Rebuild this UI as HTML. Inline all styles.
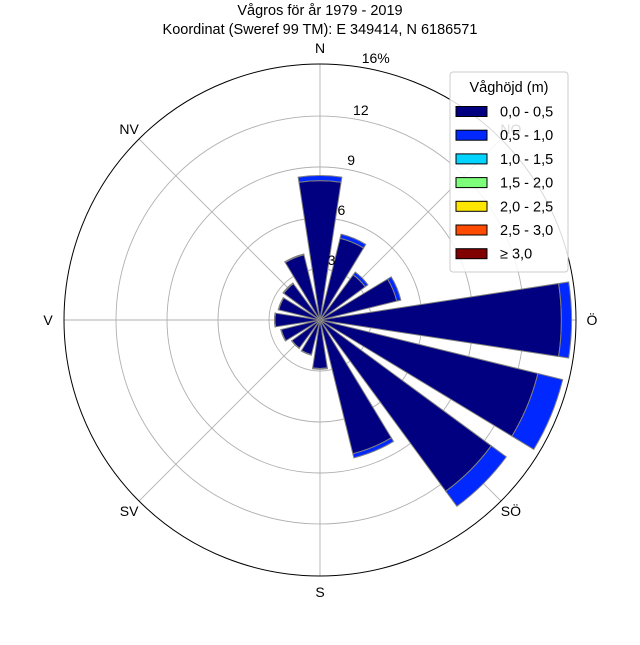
<!DOCTYPE html>
<html><head><meta charset="utf-8"><style>
body{margin:0;background:#fff;}
svg text{font-family:"Liberation Sans",sans-serif;fill:#000;}
</style></head><body>
<svg id="chart" width="640" height="640" viewBox="0 0 640 640" xmlns="http://www.w3.org/2000/svg">
<text x="320" y="15" font-size="14.5" text-anchor="middle">Vågros för år 1979 - 2019</text>
<text x="320" y="34" font-size="14.5" text-anchor="middle">Koordinat (Sweref 99 TM): E 349414, N 6186571</text>
<g id="grid"></g>
<g id="bars"></g>
<g id="labels"></g>
<g id="legend"></g>
</svg>
<script>
const directions = ["N","NNO","NO","ONO","Ö","OSÖ","SÖ","SSÖ","S","SSV","SV","VSV","V","VNV","NV","NNV"];
const bin0 = [8.2,4.95,3.3,4.65,14.2,13.2,12.5,8.1,2.85,2.1,2.05,2.35,2.65,2.5,2.65,3.95];
const bin1 = [0.3,0.25,0.2,0.25,0.6,1.5,1.1,0.25,0.05,0.03,0.03,0.03,0.03,0.03,0.05,0.05];
const ringValues = [3,6,9,12];
const ringLabels = ["3","6","9","12"];
const outerLabel = "16%";
const compassNames = ["N","NO","Ö","SÖ","S","SV","V","NV"];
const legendLabels = ["0,0 - 0,5","0,5 - 1,0","1,0 - 1,5","1,5 - 2,0","2,0 - 2,5","2,5 - 3,0","≥ 3,0"];
const legendColors = ["#000080","#0028ff","#00d4ff","#7dff7a","#ffe600","#ff4a00","#800000"];

const NS="http://www.w3.org/2000/svg";
const cx=320, cy=320, rMax=256, vMax=15.06;
function rScale(v){return v/vMax*rMax;}
function pt(deg,r){const a=deg*Math.PI/180;return [cx+r*Math.sin(a), cy-r*Math.cos(a)];}
function mk(tag,attrs,parent){const e=document.createElementNS(NS,tag);for(const k in attrs)e.setAttribute(k,attrs[k]);parent.appendChild(e);return e;}

const grid=document.getElementById('grid');
ringValues.forEach((v,i)=>{
  const c=mk('circle',{cx:cx,cy:cy,r:rScale(v),fill:'none',stroke:'#b0b0b0','stroke-width':0.9},grid);
  
  
});
for(let k=0;k<8;k++){
  const p=pt(k*45,rMax);
  const l=mk('line',{x1:cx,y1:cy,x2:p[0],y2:p[1],stroke:'#b0b0b0','stroke-width':0.9},grid);
  
  
}

const bars=document.getElementById('bars');
const half=8.7;
function wedge(deg,r0,r1,color,name){
  const a=pt(deg-half,r0),b=pt(deg-half,r1),c=pt(deg+half,r1),d=pt(deg+half,r0);
  const dstr=`M${a[0]},${a[1]} L${b[0]},${b[1]} A${r1},${r1} 0 0 1 ${c[0]},${c[1]} L${d[0]},${d[1]} `+(r0>0?`A${r0},${r0} 0 0 0 ${a[0]},${a[1]}`:'')+'Z';
  const p=mk('path',{d:dstr,fill:color,stroke:'#808080','stroke-width':1},bars);
  
  
}
directions.forEach((dname,i)=>{
  const deg=i*22.5;
  const r0=rScale(bin0[i]);
  const r1=rScale(bin0[i]+bin1[i]);
  wedge(deg,0,r0,legendColors[0],'bar-'+dname+'-0-0.5');
  wedge(deg,r0,r1,legendColors[1],'bar-'+dname+'-0.5-1.0');
});

const outer=mk('circle',{cx:cx,cy:cy,r:rMax,fill:'none',stroke:'#000','stroke-width':1},grid);



const labels=document.getElementById('labels');
ringValues.forEach((v,i)=>{
  const p=pt(11,rScale(v)+10);
  const t=mk('text',{x:p[0],y:p[1]+5,'font-size':14,'text-anchor':'middle'},labels);
  t.textContent=ringLabels[i];
  
  
});
{const p=pt(12,rMax+12);const t=mk('text',{x:p[0],y:p[1]+5,'font-size':14,'text-anchor':'middle'},labels);
t.textContent=outerLabel;

}
compassNames.forEach((n,k)=>{
  const deg=k*45; const r=(k%2===0)?272:270;
  const p=pt(deg,r);
  const t=mk('text',{x:p[0],y:p[1]+5,'font-size':14,'text-anchor':'middle'},labels);
  t.textContent=n;
  
  
});

const leg=document.getElementById('legend');
const bg=mk('rect',{x:450,y:72,width:118,height:200,rx:3,fill:'#fff','fill-opacity':0.85,stroke:'#cccccc','stroke-width':1},leg);


const lt=mk('text',{x:509,y:92,'font-size':14.5,'text-anchor':'middle'},leg);
lt.textContent='Våghöjd (m)';


legendLabels.forEach((lab,i)=>{
  const y=111.5+i*23.7;
  const g=mk('g',{},leg);
  
  
  mk('rect',{x:456,y:y-5,width:31,height:10,fill:legendColors[i],stroke:'#000','stroke-width':1},g);
  const t=mk('text',{x:500,y:y+5,'font-size':14.5},g);
  t.textContent=lab;
});
</script>
</body></html>
